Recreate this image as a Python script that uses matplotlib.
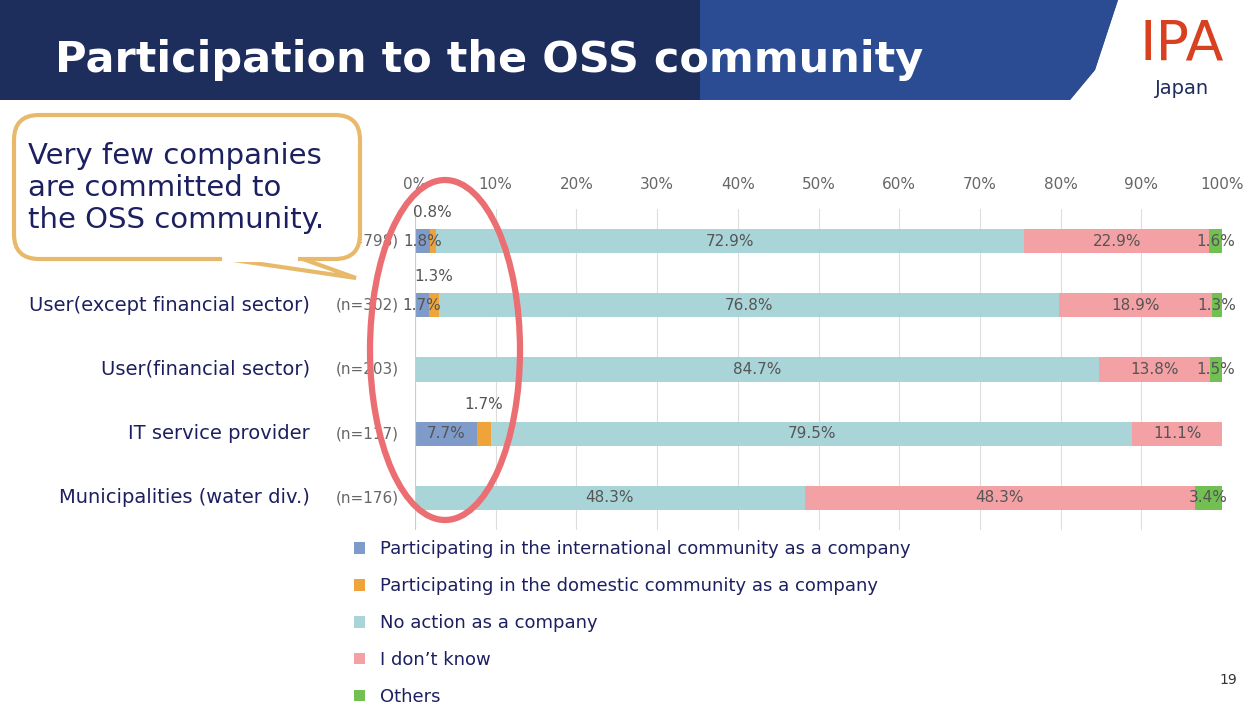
import matplotlib
matplotlib.use("Agg")
import matplotlib.pyplot as plt
from matplotlib.patches import FancyBboxPatch, Ellipse, Polygon, Rectangle
import numpy as np

categories = ["Total", "User(except financial sector)", "User(financial sector)",
              "IT service provider", "Municipalities (water div.)"]
counts = ["(n=798)", "(n=302)", "(n=203)", "(n=117)", "(n=176)"]
series = ["Participating in the international community as a company",
          "Participating in the domestic community as a company",
          "No action as a company", "I don\u2019t know", "Others"]
intl = [1.8, 1.7, 0.0, 7.7, 0.0]
domestic = [0.8, 1.3, 0.0, 1.7, 0.0]
no_action = [72.9, 76.8, 84.7, 79.5, 48.3]
dont_know = [22.9, 18.9, 13.8, 11.1, 48.3]
others = [1.6, 1.3, 1.5, 0.0, 3.4]
colors = ["#7f9bc9", "#eea43a", "#a9d5d9", "#f3a1a5", "#72c052"]

W, H = 1250, 705
fig = plt.figure(figsize=(12.5, 7.05), dpi=100)
fig.patch.set_facecolor("white")

# header banner
bg = fig.add_axes([0, 0, 1, 1])
bg.set_xlim(0, W); bg.set_ylim(H, 0); bg.axis("off")
bg.add_patch(Polygon([(0, 0), (1118, 0), (1095, 70), (1070, 100), (0, 100)],
                     closed=True, facecolor="#1d2d5c", edgecolor="none"))
bg.add_patch(Polygon([(700, 0), (1118, 0), (1095, 70), (1070, 100), (700, 100)],
                     closed=True, facecolor="#2f55a0", edgecolor="none", alpha=0.8))
bg.text(55, 60, "Participation to the OSS community", color="white",
        fontsize=31, fontweight="bold", va="center", family="DejaVu Sans")
bg.text(1182, 45, "IPA", color="#d8401f", fontsize=40, ha="center", va="center",
        family="DejaVu Sans")
bg.text(1182, 89, "Japan", color="#1d2d5c", fontsize=14, ha="center", va="center")
bg.text(1228, 680, "19", color="#333333", fontsize=10, ha="center", va="center")

# chart
ax = fig.add_axes([415 / W, 1 - 530 / H, (1222 - 415) / W, (530 - 209) / H])
y = np.arange(len(categories))
data = [intl, domestic, no_action, dont_know, others]
left = np.zeros(len(categories))
for vals, c, name in zip(data, colors, series):
    vals = np.array(vals)
    ax.barh(y, vals, left=left, height=0.38, color=c, label=name)
    for i, v in enumerate(vals):
        if v >= 3:
            ax.text(left[i] + v / 2, i, f"{v:.1f}%", ha="center", va="center",
                    fontsize=11, color="#555555")
    left += vals
for i in range(len(categories)):
    if 0 < intl[i] < 3:
        ax.text(intl[i] / 2, i, f"{intl[i]:.1f}%", ha="center", va="center",
                fontsize=11, color="#555555")
    if domestic[i] > 0:
        ax.text(intl[i] + domestic[i] / 2, i - 0.45, f"{domestic[i]:.1f}%",
                ha="center", va="center", fontsize=11, color="#555555")
    if 0 < others[i] < 3:
        ax.text(100 - others[i] / 2, i, f"{others[i]:.1f}%", ha="center",
                va="center", fontsize=11, color="#555555")

ax.set_xlim(0, 100)
ax.set_ylim(len(categories) - 0.5, -0.5)
ax.xaxis.tick_top()
ax.set_xticks(np.arange(0, 101, 10))
ax.set_xticklabels([f"{t}%" for t in range(0, 101, 10)], color="#666666", fontsize=11)
ax.tick_params(axis="x", length=0, pad=12)
ax.set_yticks([])
for s in ax.spines.values():
    s.set_visible(False)
ax.grid(axis="x", color="#dddddd", linewidth=0.8)
ax.set_axisbelow(True)
ax.axvline(0, color="#cccccc", linewidth=0.8)

for i, (cat, n) in enumerate(zip(categories, counts)):
    ax.text(-2, i, n, ha="right", va="center", fontsize=11, color="#666666")
    if i > 0:
        ax.text(-13, i, cat, ha="right", va="center", fontsize=14, color="#1d2060")

handles, labels = ax.get_legend_handles_labels()
fig.legend(handles, labels, loc="upper left", bbox_to_anchor=(338 / W, 1 - 524 / H),
           frameon=False, fontsize=13, labelcolor="#1d2060", handlelength=0.6,
           handleheight=0.6, labelspacing=1.05)

# callout & ellipse
bg2 = fig.add_axes([0, 0, 1, 1])
bg2.set_xlim(0, W); bg2.set_ylim(H, 0); bg2.axis("off")
bg2.add_patch(Polygon([(220, 258), (356, 278), (300, 258)], closed=True,
                      facecolor="white", edgecolor="#e8b96a", linewidth=3))
bg2.add_patch(FancyBboxPatch((14, 115), 346, 144, boxstyle="round,pad=0,rounding_size=25",
                             facecolor="white", edgecolor="#e8b96a", linewidth=3))
bg2.add_patch(Rectangle((222, 252), 76, 10, facecolor="white", edgecolor="none"))
bg2.text(28, 188, "Very few companies\nare committed to\nthe OSS community.",
         fontsize=21, color="#1d2060", va="center", ha="left", linespacing=1.2)
bg2.add_patch(Ellipse((445, 350), 150, 340, facecolor="none",
                      edgecolor="#ea6e72", linewidth=4.5))

fig.savefig("out.png", dpi=100)
